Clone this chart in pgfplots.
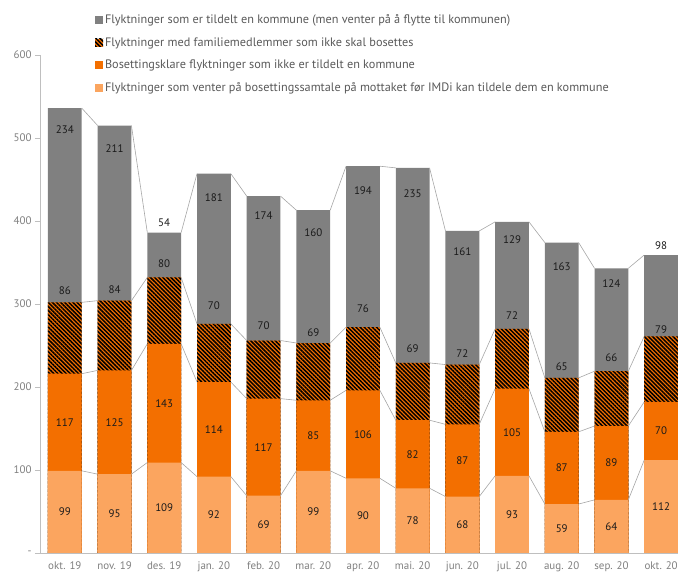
\documentclass[border=0pt]{standalone}
\usepackage{fontspec}
\setmainfont{PT Sans}
\usepackage{pgfplots}
\usepackage{pgfplotstable}
\pgfplotsset{compat=1.18}
\usetikzlibrary{patterns.meta,calc}

\definecolor{cgray}{HTML}{808080}
\definecolor{corange}{HTML}{F36F00}
\definecolor{clight}{HTML}{FBA55F}
\definecolor{axgray}{HTML}{BFBFBF}
\definecolor{tickgray}{HTML}{7F7F7F}
\definecolor{leggray}{HTML}{595959}
\definecolor{linegray}{HTML}{A6A6A6}
\definecolor{labelc}{HTML}{1A1A1A}

% a: venter paa bosettingssamtale, b: bosettingsklare ikke tildelt,
% c: familiemedlemmer som ikke skal bosettes, d: tildelt kommune
% oc, od: label offsets (axis units) for series c and d
\pgfplotstableread{
x a b c d oc od
0 99 117 86 234 14 26
1 95 125 84 211 13 28
2 109 143 80 54 17 -12
3 92 114 70 181 22 29
4 69 117 70 174 18 24
5 99 85 69 160 12 27
6 90 106 76 194 22 29
7 78 82 69 235 17 31
8 68 87 72 161 13 25
9 93 105 72 129 16 22
10 59 87 65 163 14 29
11 64 89 66 124 16 19
12 112 70 79 98 8 -11
}\datatab
\pgfplotstablecreatecol[create col/expr={\thisrow{a}+\thisrow{b}}]{c2}\datatab
\pgfplotstablecreatecol[create col/expr={\thisrow{a}+\thisrow{b}+\thisrow{c}}]{c3}\datatab
\pgfplotstablecreatecol[create col/expr={\thisrow{a}+\thisrow{b}+\thisrow{c}+\thisrow{d}}]{t}\datatab
\pgfplotstablecreatecol[create col/expr={\nextrow{a}-\thisrow{a}}]{da}\datatab
\pgfplotstablecreatecol[create col/expr={\nextrow{c2}-\thisrow{c2}}]{db}\datatab
\pgfplotstablecreatecol[create col/expr={\nextrow{c3}-\thisrow{c3}}]{dc}\datatab
\pgfplotstablecreatecol[create col/expr={\nextrow{t}-\thisrow{t}}]{dt}\datatab

\begin{document}
\begin{tikzpicture}
\begin{axis}[
  name=ax,
  scale only axis,
  width=638bp, height=498bp,
  xmin=-0.5, xmax=12.34,
  ymin=0, ymax=600,
  axis x line*=bottom,
  axis y line*=left,
  axis line style={axgray, line width=0.75bp},
  xtick={0,...,12},
  xticklabels={okt. 19, nov. 19, des. 19, jan. 20, feb. 20, mar. 20, apr. 20, mai. 20, jun. 20, jul. 20, aug. 20, sep. 20, okt. 20},
  x tick style={draw=none},
  ytick={0,100,...,600},
  yticklabels={-,100,200,300,400,500,600},
  y tick style={axgray, line width=0.75bp},
  tick align=outside,
  major tick length=5bp,
  tick label style={font=\fontsize{11}{13}\selectfont, text=tickgray},
  /pgf/number format/assume math mode=true,
  bar width=0.68,
  legend image code/.code={\fill[#1] (0bp,-4bp) rectangle (8bp,4bp);},
  legend style={at={(0.086,1.085)}, anchor=north west, draw=none, fill=none,
    font=\fontsize{12.3}{14.5}\selectfont, text=leggray, inner sep=0pt,
    row sep=8.2bp, /tikz/every even column/.style={column sep=2bp}},
  legend cell align=left,
]
% bars (drawn from zero, overpainting = stacked look)
\addplot[ybar, bar shift=0pt, fill=cgray, draw=none] table[x=x, y=t] {\datatab};
\addlegendentry{Flyktninger som er tildelt en kommune (men venter på å flytte til kommunen)}
\addplot[ybar, bar shift=0pt, fill=corange, draw=none,
  postaction={pattern={Lines[angle=-45,distance=2.9bp,line width=1.5bp]}, pattern color=black}]
  table[x=x, y=c3] {\datatab};
\addlegendentry{Flyktninger med familiemedlemmer som ikke skal bosettes}
\addplot[ybar, bar shift=0pt, fill=corange, draw=none] table[x=x, y=c2] {\datatab};
\addlegendentry{Bosettingsklare flyktninger som ikke er tildelt en kommune}
\addplot[ybar, bar shift=0pt, fill=clight, draw=none] table[x=x, y=a] {\datatab};
\addlegendentry{Flyktninger som venter på bosettingssamtale på mottaket før IMDi kan tildele dem en kommune}

% series lines between bars
\addplot[forget plot, linegray, line width=0.6bp, no markers, quiver={u=0.32, v=\thisrow{da}},
  skip coords between index={12}{13}] table[x expr=\thisrow{x}+0.34, y=a] {\datatab};
\addplot[forget plot, linegray, line width=0.6bp, no markers, quiver={u=0.32, v=\thisrow{db}},
  skip coords between index={12}{13}] table[x expr=\thisrow{x}+0.34, y=c2] {\datatab};
\addplot[forget plot, linegray, line width=0.6bp, no markers, quiver={u=0.32, v=\thisrow{dc}},
  skip coords between index={12}{13}] table[x expr=\thisrow{x}+0.34, y=c3] {\datatab};
\addplot[forget plot, linegray, line width=0.6bp, no markers, quiver={u=0.32, v=\thisrow{dt}},
  skip coords between index={12}{13}] table[x expr=\thisrow{x}+0.34, y=t] {\datatab};

% data labels
\pgfplotsset{lbl/.style={forget plot, draw=none, mark=none, nodes near coords, point meta=explicit,
  every node near coord/.style={anchor=center, font=\fontsize{11}{13}\selectfont, text=labelc}}}
\addplot[lbl] table[x=x, y expr=\thisrow{a}/2, meta=a] {\datatab};
\addplot[lbl] table[x=x, y expr=\thisrow{a}+\thisrow{b}/2, meta=b] {\datatab};
\addplot[lbl] table[x=x, y expr=\thisrow{c3}+\thisrow{oc}, meta=c] {\datatab};
\addplot[lbl] table[x=x, y expr=\thisrow{t}-\thisrow{od}, meta=d] {\datatab};
\end{axis}
\pgfresetboundingbox
\path ($(ax.south west)+(-40bp,-21bp)$) rectangle ($(ax.north east)+(0bp,55bp)$);
\end{tikzpicture}
\end{document}
